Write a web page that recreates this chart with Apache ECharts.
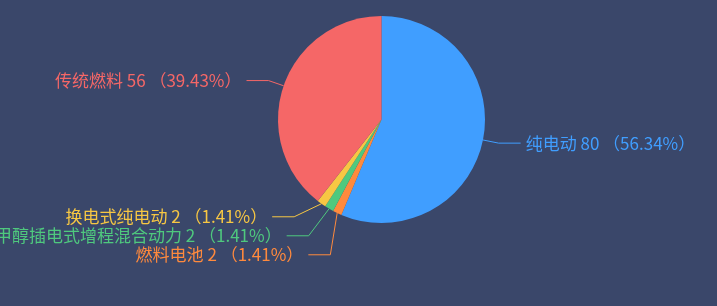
<!DOCTYPE html>
<html><head><meta charset="utf-8">
<script src="https://cdn.jsdelivr.net/npm/echarts@6/dist/echarts.min.js"></script>
<style>html,body{margin:0;padding:0;background:#3a476a;}#c{width:717px;height:306px;}</style>
</head><body><div id="c"></div>
<script>
const categories = ['纯电动','燃料电池','甲醇插电式增程混合动力','换电式纯电动','传统燃料'];
const values = [80, 2, 2, 2, 56];
const colors = ['#409eff','#ff8a3d','#4fc97e','#f7c743','#f56767'];
const chart = echarts.init(document.getElementById('c'));
chart.setOption({
  backgroundColor: '#3a476a',
  color: colors,
  series: [{
    type: 'pie',
    center: [381.5, 119.5],
    radius: 103.5,
    data: categories.map((n,i)=>({name:n, value:values[i]})),
    label: {
      formatter: '{b} {c} （{d}%）',
      fontSize: 17,
      fontFamily: 'Noto Sans CJK SC',
      color: 'inherit',
      overflow: 'none',
      edgeDistance: 0
    },
    labelLine: { length: 16, length2: 22 },
    itemStyle: { borderWidth: 0 }
  }]
});
</script></body></html>
